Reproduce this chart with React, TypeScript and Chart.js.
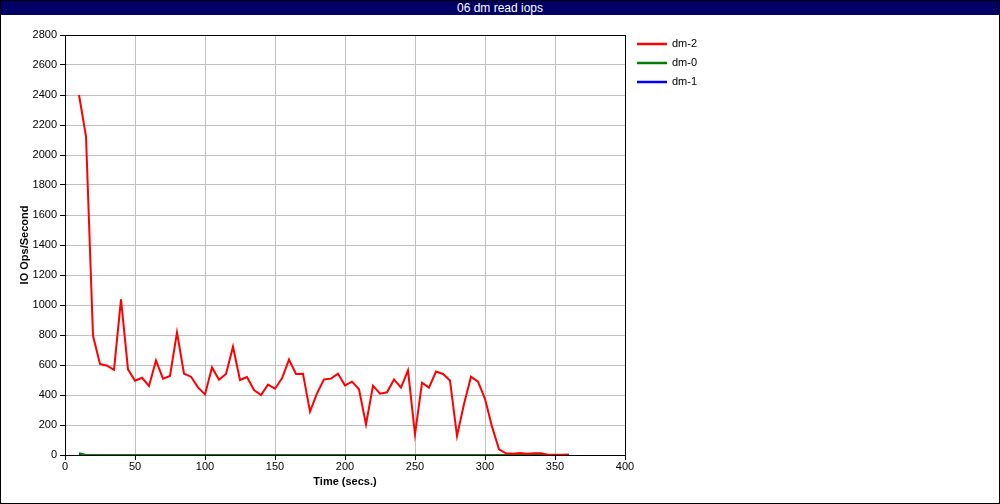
import React, { useEffect, useRef } from "react";
import { Chart, registerables } from "chart.js";

Chart.register(...registerables);

const titleText = "06 dm read iops";
const xAxisTitle = "Time (secs.)";
const yAxisTitle = "IO Ops/Second";

const times = [
  10, 15, 20, 25, 30, 35, 40, 45, 50, 55, 60, 65, 70, 75, 80, 85, 90, 95, 100,
  105, 110, 115, 120, 125, 130, 135, 140, 145, 150, 155, 160, 165, 170, 175,
  180, 185, 190, 195, 200, 205, 210, 215, 220, 225, 230, 235, 240, 245, 250,
  255, 260, 265, 270, 275, 280, 285, 290, 295, 300, 305, 310, 315, 320, 325,
  330, 335, 340, 345, 350, 355, 360,
];

const dm2 = [
  2400, 2125, 795, 607, 595, 568, 1038, 571, 495, 515, 460, 630, 509, 527, 818,
  542, 522, 451, 404, 584, 502, 540, 722, 500, 520, 433, 400, 469, 442, 511,
  636, 540, 542, 289, 411, 504, 509, 542, 464, 489, 438, 204, 462, 409, 418,
  504, 449, 564, 138, 482, 449, 556, 540, 496, 127, 340, 522, 489, 375, 189,
  38, 11, 9, 14, 9, 12, 12, 2, 2, 2, 3,
];

const dm0 = [
  12, 0, 0, 0, 0, 0, 0, 0, 0, 0, 0, 0, 0, 0, 0, 0, 0, 0, 0, 0, 0, 0, 0, 0, 0,
  0, 0, 0, 0, 0, 0, 0, 0, 0, 0, 0, 0, 0, 0, 0, 0, 0, 0, 0, 0, 0, 0, 0, 0, 0,
  0, 0, 0, 0, 0, 0, 0, 0, 0, 0, 0, 0, 0, 0, 0, 0, 0, 0, 0, 0, 0,
];

const dm1 = [
  0, 0, 0, 0, 0, 0, 0, 0, 0, 0, 0, 0, 0, 0, 0, 0, 0, 0, 0, 0, 0, 0, 0, 0, 0,
  0, 0, 0, 0, 0, 0, 0, 0, 0, 0, 0, 0, 0, 0, 0, 0, 0, 0, 0, 0, 0, 0, 0, 0, 0,
  0, 0, 0, 0, 0, 0, 0, 0, 0, 0, 0, 0, 0, 0, 0, 0, 0, 0, 0, 0, 0,
];

const seriesLabels = ["dm-2", "dm-0", "dm-1"];
const seriesColors = ["#ff0000", "#008000", "#0000ff"];

const xMin = 0;
const xMax = 400;
const xStep = 50;
const yMin = 0;
const yMax = 2800;
const yStep = 200;

const FONT = "'Liberation Sans', Arial, Helvetica, sans-serif";

const framePlugin = {
  id: "frame",
  beforeDatasetsDraw(chart: any) {
    const { ctx, chartArea } = chart;
    ctx.save();
    ctx.strokeStyle = "#000";
    ctx.lineWidth = 1;
    ctx.strokeRect(
      Math.round(chartArea.left) + 0.5,
      Math.round(chartArea.top) + 0.5,
      Math.round(chartArea.right - chartArea.left),
      Math.round(chartArea.bottom - chartArea.top)
    );
    ctx.restore();
  },
};

const legendPlugin = {
  id: "customLegend",
  afterDraw(chart: any) {
    const { ctx } = chart;
    const ds = chart.data.datasets;
    ctx.save();
    ctx.font = `11px ${FONT}`;
    ctx.textBaseline = "middle";
    ctx.textAlign = "left";
    for (let i = 0; i < ds.length; i++) {
      const y = 29 + i * 19;
      ctx.strokeStyle = ds[i].borderColor;
      ctx.lineWidth = 2.5;
      ctx.beginPath();
      ctx.moveTo(636, y);
      ctx.lineTo(666, y);
      ctx.stroke();
      ctx.fillStyle = "#000";
      ctx.fillText(ds[i].label, 671, y);
    }
    ctx.restore();
  },
};

export default function App() {
  const canvasRef = useRef<HTMLCanvasElement | null>(null);

  useEffect(() => {
    document.body.style.margin = "0";
    const canvas = canvasRef.current;
    if (!canvas) return;
    const series = [dm2, dm0, dm1];
    const chart = new Chart(canvas, {
      type: "line",
      data: {
        datasets: series.map((vals, i) => ({
          label: seriesLabels[i],
          data: times.map((t, j) => ({ x: t, y: vals[j] })),
          borderColor: seriesColors[i],
          backgroundColor: seriesColors[i],
          borderWidth: 2,
          pointRadius: 0,
          tension: 0,
          fill: false,
        })),
      },
      options: {
        responsive: false,
        animation: false,
        devicePixelRatio: 1,
        layout: { padding: { top: 20, right: 374, left: 0, bottom: 0 } },
        plugins: {
          legend: { display: false },
          title: { display: false },
          tooltip: { enabled: false },
        },
        scales: {
          x: {
            type: "linear",
            min: xMin,
            max: xMax,
            ticks: {
              stepSize: xStep,
              color: "#000",
              font: { family: FONT, size: 11 },
              padding: 0,
              maxRotation: 0,
              callback: (v: any) => String(v),
            },
            grid: {
              color: "#c0c0c0",
              tickColor: "#000",
              tickLength: 5,
              lineWidth: 1,
            },
            border: { color: "#000", width: 1 },
            title: {
              display: true,
              text: xAxisTitle,
              color: "#000",
              font: { family: FONT, size: 11, weight: "bold" },
              padding: { top: 0, bottom: 14 },
            },
            afterFit: (s: any) => {
              s.height = 48;
            },
          },
          y: {
            type: "linear",
            min: yMin,
            max: yMax,
            ticks: {
              stepSize: yStep,
              color: "#000",
              font: { family: FONT, size: 11 },
              padding: 3,
              callback: (v: any) => String(v),
            },
            grid: {
              color: "#c0c0c0",
              tickColor: "#000",
              tickLength: 5,
              lineWidth: 1,
            },
            border: { color: "#000", width: 1 },
            title: {
              display: true,
              text: yAxisTitle,
              color: "#000",
              font: { family: FONT, size: 11, weight: "bold" },
              padding: { top: 17, bottom: 0 },
            },
            afterFit: (s: any) => {
              s.width = 64;
            },
          },
        },
      },
      plugins: [framePlugin, legendPlugin],
    });
    return () => chart.destroy();
  }, []);

  return (
    <div
      style={{
        width: 1000,
        height: 504,
        boxSizing: "border-box",
        border: "1px solid #000",
        background: "#fff",
        overflow: "hidden",
      }}
    >
      <div
        style={{
          height: 14,
          background: "#000066",
          color: "#fff",
          fontFamily: FONT,
          fontSize: 12,
          lineHeight: "14px",
          textAlign: "center",
        }}
      >
        {titleText}
      </div>
      <canvas
        ref={canvasRef}
        width={998}
        height={488}
        style={{ display: "block", width: 998, height: 488 }}
      />
    </div>
  );
}
